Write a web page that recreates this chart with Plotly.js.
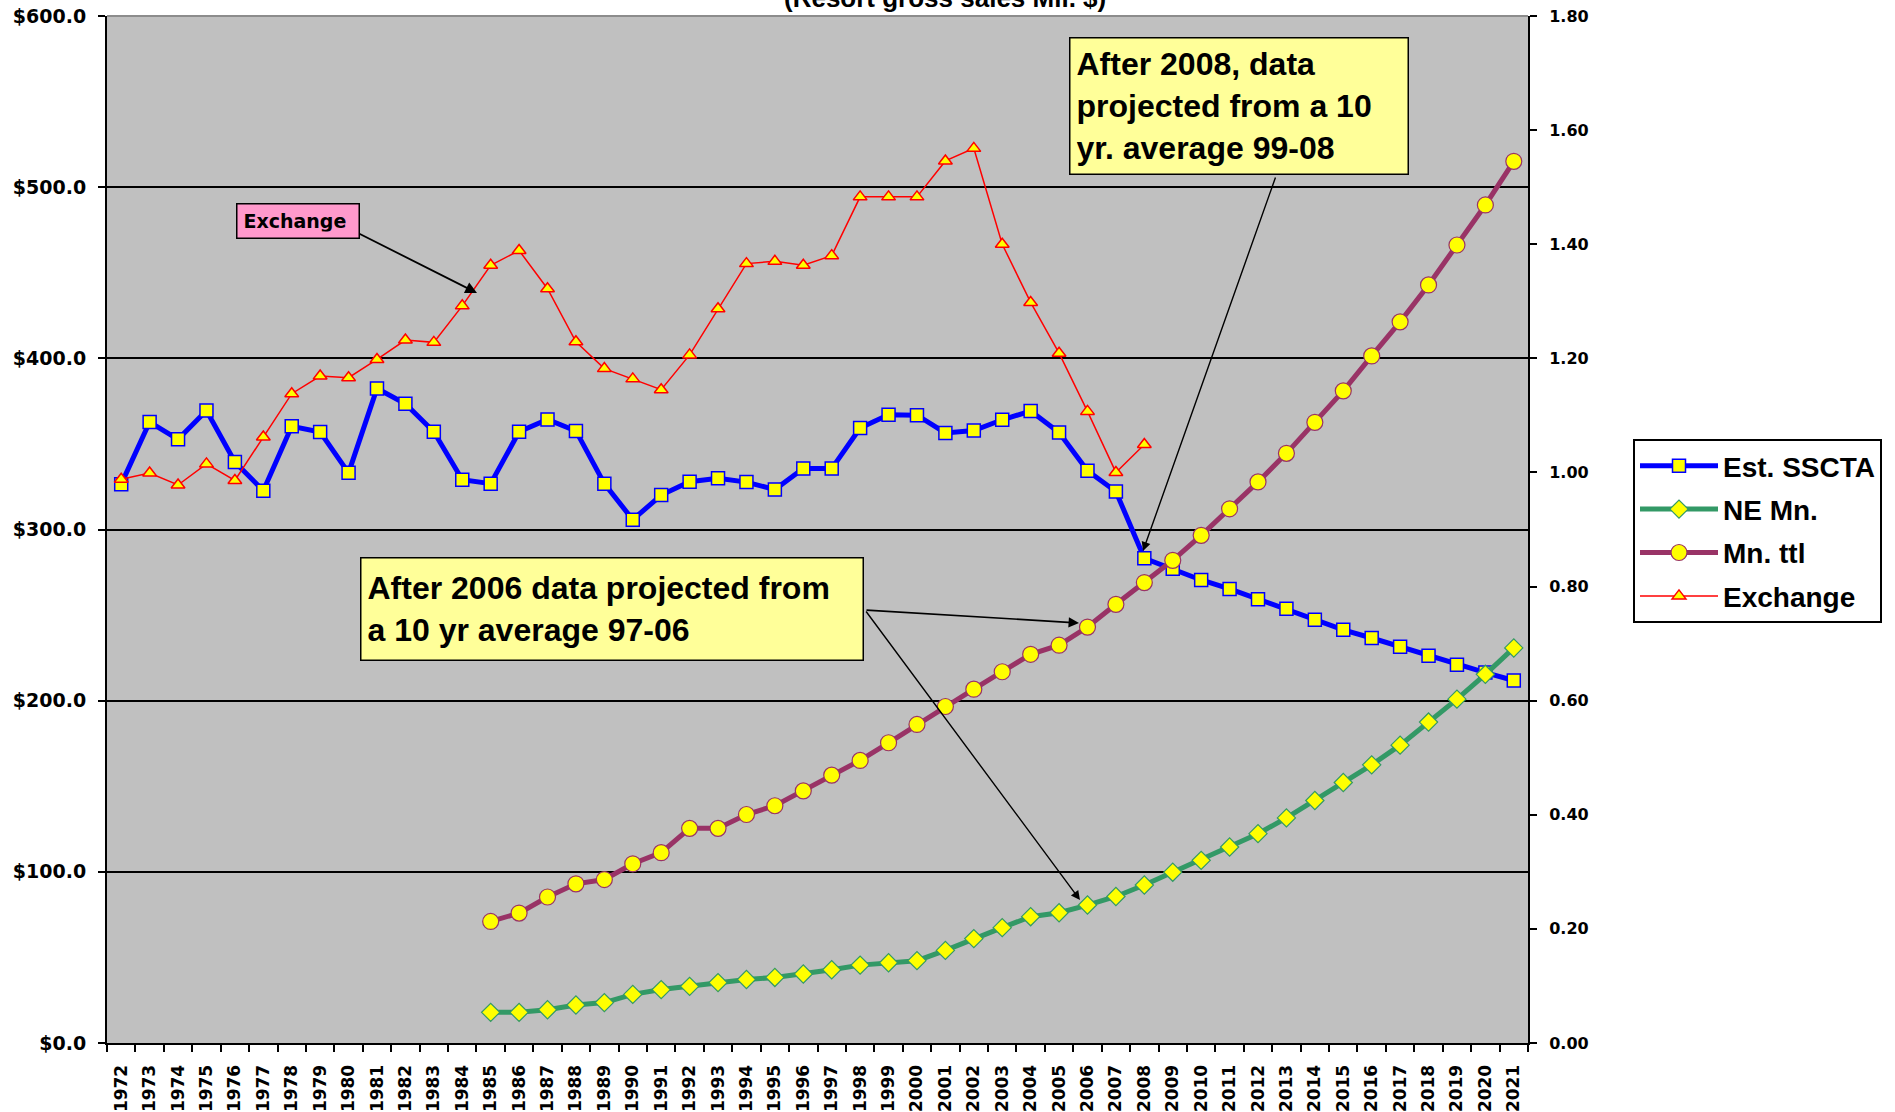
<!DOCTYPE html>
<html><head><meta charset="utf-8">
<script src="https://cdn.plot.ly/plotly-3.0.1.min.js"></script>
<style>html,body{margin:0;padding:0;background:#fff;overflow:hidden}#chart{width:1895px;height:1112px}</style>
</head><body><div id="chart"></div>
<script>
const years = ['1972','1973','1974','1975','1976','1977','1978','1979','1980','1981',
  '1982','1983','1984','1985','1986','1987','1988','1989','1990','1991',
  '1992','1993','1994','1995','1996','1997','1998','1999','2000','2001',
  '2002','2003','2004','2005','2006','2007','2008','2009','2010','2011',
  '2012','2013','2014','2015','2016','2017','2018','2019','2020','2021'];

const estSSCTA = [326.5,362.8,352.7,369.5,339.4,322.7,360.3,356.9,333.1,382.4,
  373.5,357.1,329.1,326.8,357.1,364.3,357.6,326.8,305.7,320.1,
  327.9,330.0,327.7,323.3,335.6,335.6,359.3,367.1,366.8,356.4,
  357.8,364.1,369.2,356.6,334.3,322.2,283.2,277.0,270.5,265.3,
  259.2,253.7,247.3,241.4,236.6,231.5,226.3,221.0,216.4,211.8];

const neMn = [null,null,null,null,null,null,null,null,null,null,
  null,null,null,17.9,17.9,19.4,22.2,23.6,28.4,31.2,
  33.1,35.3,37.1,38.3,40.3,42.8,45.5,46.9,48.1,54.1,
  61.0,67.4,73.8,76.1,80.6,85.6,92.3,99.8,106.7,114.5,
  122.3,131.5,141.7,152.2,162.5,174.0,187.5,200.9,215.4,230.8];

const mnTtl = [null,null,null,null,null,null,null,null,null,null,
  null,null,null,71.0,75.9,85.3,93.0,95.5,104.7,111.2,
  125.4,125.4,133.5,138.6,147.3,156.5,165.1,175.4,186.1,196.6,
  206.7,216.9,227.1,232.4,243.0,256.3,269.0,282.0,296.6,312.1,
  327.8,344.5,362.6,381.0,401.4,421.3,442.9,466.2,489.6,515.1];

const exchange = [0.988,0.999,0.978,1.015,0.986,1.062,1.138,1.169,1.166,1.198,
  1.232,1.228,1.292,1.363,1.389,1.322,1.229,1.182,1.164,1.145,
  1.206,1.287,1.366,1.370,1.363,1.380,1.483,1.483,1.483,1.546,
  1.568,1.400,1.298,1.209,1.107,1.000,1.049,null,null,null,
  null,null,null,null,null,null,null,null,null,null];

const seriesNames = ['Est. SSCTA','NE Mn.','Mn. ttl','Exchange'];

// page geometry (pixels)
const W = 1895, H = 1112, L = 107, R = 1528, T = 16, B = 1043;
const px = x => (x - L) / (R - L);
const py = y => (B - y) / (B - T);

const bold = (fam, size) => ({family: fam, size: size, weight: 'bold', color: '#000'});

const traces = [
  {name: seriesNames[0], x: years, y: estSSCTA, type: 'scatter', mode: 'lines+markers',
   legendgroup: 'g1', line: {color: '#0000FF', width: 5},
   marker: {symbol: 'square', size: 13, color: '#FFFF00', line: {color: '#0000FF', width: 1.5}}},
  {name: seriesNames[1], x: years, y: neMn, type: 'scatter', mode: 'lines+markers',
   legendgroup: 'g2', line: {color: '#339966', width: 5},
   marker: {symbol: 'diamond', size: 14, color: '#FFFF00', line: {color: '#339966', width: 1.2}}},
  {name: seriesNames[2], x: years, y: mnTtl, type: 'scatter', mode: 'lines+markers',
   legendgroup: 'g3', line: {color: '#993366', width: 5},
   marker: {symbol: 'circle', size: 16, color: '#FFFF00', line: {color: '#993366', width: 1.2}}},
  {name: seriesNames[3], x: years, y: exchange, type: 'scatter', mode: 'lines+markers', yaxis: 'y2',
   legendgroup: 'g4', line: {color: '#FF0000', width: 1.5},
   marker: {symbol: 'triangle-up', size: 12, color: '#FFFF00', line: {color: '#FF0000', width: 1.5}}}
];

const arrowStyle = {showarrow: true, text: '', arrowhead: 2, arrowsize: 1.3, arrowwidth: 1.8,
  arrowcolor: '#000', xref: 'paper', yref: 'paper', axref: 'pixel', ayref: 'pixel'};

const layout = {
  width: W, height: H,
  margin: {l: L, r: W - R, t: T, b: H - B, pad: 0},
  paper_bgcolor: '#FFFFFF', plot_bgcolor: '#C0C0C0',
  showlegend: true,
  xaxis: {type: 'category', range: [-0.5, 49.5], tickson: 'boundaries', ticks: 'outside',
    ticklen: 7, tickwidth: 2, tickcolor: '#000', tickangle: -90, ticklabelstandoff: 13,
    tickfont: bold('DejaVu Sans', 17), showline: true, linecolor: '#000', linewidth: 2,
    showgrid: false, zeroline: false},
  yaxis: {range: [0, 600], dtick: 100, tick0: 0, tickprefix: '$', tickformat: '.1f',
    ticks: 'outside', ticklen: 7, tickwidth: 2, tickcolor: '#000', ticklabelstandoff: 8,
    showline: true, linecolor: '#000', linewidth: 2, showgrid: true, gridcolor: '#000',
    gridwidth: 2, zeroline: false, tickfont: bold('DejaVu Sans', 19)},
  yaxis2: {range: [0, 1.8], dtick: 0.2, tick0: 0, tickformat: '.2f', overlaying: 'y', side: 'right',
    ticks: 'outside', ticklen: 7, tickwidth: 2, tickcolor: '#000', ticklabelstandoff: 9,
    showline: true, linecolor: '#000', linewidth: 2, showgrid: false, zeroline: false,
    tickfont: bold('DejaVu Sans', 16)},
  legend: {x: px(1633), y: py(439), xanchor: 'left', yanchor: 'top', bgcolor: '#FFFFFF',
    bordercolor: '#000', borderwidth: 2, font: bold('Liberation Sans', 28), itemwidth: 78,
    traceorder: 'grouped', tracegroupgap: 4},
  shapes: [
    {type: 'line', xref: 'paper', yref: 'paper', x0: 0, x1: 1, y0: 1, y1: 1,
     line: {color: '#8C8C8C', width: 2}}
  ],
  annotations: [
    {xref: 'paper', yref: 'paper', x: px(945), y: py(-2), xanchor: 'center', yanchor: 'middle',
     text: '(Resort gross sales Mil. $)', showarrow: false, font: bold('Liberation Sans', 26)},
    Object.assign({}, arrowStyle, {x: px(477), y: py(293), ax: 348 - 477, ay: 228 - 293}),
    Object.assign({}, arrowStyle, {x: px(1143), y: py(551), ax: 1276 - 1143, ay: 176 - 551, arrowwidth: 1.4}),
    Object.assign({}, arrowStyle, {x: px(1079), y: py(623), ax: 865 - 1079, ay: 610 - 623, arrowwidth: 1.6}),
    Object.assign({}, arrowStyle, {x: px(1080), y: py(900), ax: 865 - 1080, ay: 610 - 900, arrowwidth: 1.4}),
    {xref: 'paper', yref: 'paper', x: px(298), y: py(221), xanchor: 'center', yanchor: 'middle',
     text: 'Exchange', showarrow: false, font: bold('DejaVu Sans', 19), align: 'left',
     bgcolor: '#FF99CC', bordercolor: '#000', borderwidth: 1.5, borderpad: 6, width: 109, height: 21},
    {xref: 'paper', yref: 'paper', x: px(1239), y: py(106), xanchor: 'center', yanchor: 'middle',
     text: 'After 2008, data<br>projected from a 10<br>yr. average 99-08', showarrow: false,
     font: bold('Liberation Sans', 32), align: 'left', valign: 'middle',
     bgcolor: '#FFFF99', bordercolor: '#000', borderwidth: 1.5, borderpad: 6, width: 325, height: 123},
    {xref: 'paper', yref: 'paper', x: px(612), y: py(609), xanchor: 'center', yanchor: 'middle',
     text: 'After 2006 data projected from<br>a 10 yr average 97-06', showarrow: false,
     font: bold('Liberation Sans', 32), align: 'left', valign: 'middle',
     bgcolor: '#FFFF99', bordercolor: '#000', borderwidth: 1.5, borderpad: 6, width: 489, height: 89}
  ]
};

Plotly.newPlot('chart', traces, layout, {displayModeBar: false, staticPlot: true});
</script></body></html>
